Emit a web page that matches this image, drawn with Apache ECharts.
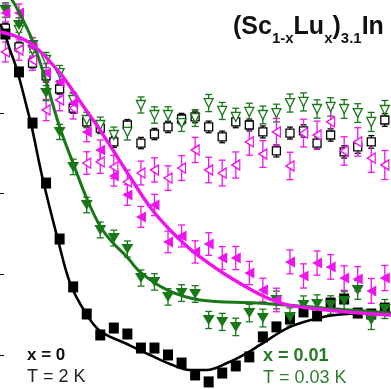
<!DOCTYPE html>
<html><head><meta charset="utf-8">
<script src="https://cdn.jsdelivr.net/npm/echarts@6/dist/echarts.min.js"></script>
<style>html,body{margin:0;padding:0;background:#fff;overflow:hidden}#c{width:391px;height:389px}</style>
</head><body><div id="c"></div>
<script>
// time bins (μs)
const time = [0.10,0.35,0.60,0.85,1.10,1.35,1.60,1.85,2.10,2.35,2.60,2.85,3.10,3.35,3.60,3.85,4.10,4.35,4.60,4.85,5.10,5.35,5.60,5.85,6.10,6.35,6.60,6.85,7.10];
// asymmetry values
const blackFilledA = [0.2490,0.2255,0.1938,0.1566,0.1219,0.0922,0.0754,0.0624,0.0667,0.0630,0.0543,0.0543,0.0500,0.0450,0.0376,0.0333,0.0388,0.0432,0.0488,0.0612,0.0674,0.0723,0.0767,0.0742,0.0822,0.0847,0.0760,0.0754,0.0791];
const blackOpenA = [0.2527,0.2410,0.2310,0.2230,0.2149,0.2031,0.1945,0.1907,0.1821,0.1926,0.1814,0.1870,0.1914,0.1963,0.1976,0.1914,0.1852,0.1945,0.1926,0.1883,0.1765,0.1876,0.1889,0.1814,0.1864,0.1759,0.1790,0.1821,0.1957];
const blackOpenErr = [0.0030,0.0030,0.0031,0.0032,0.0032,0.0033,0.0033,0.0034,0.0034,0.0034,0.0035,0.0035,0.0035,0.0035,0.0036,0.0036,0.0036,0.0036,0.0037,0.0037,0.0037,0.0037,0.0038,0.0038,0.0038,0.0038,0.0039,0.0039,0.0039];
const greenFilledA = [0.2639,0.2546,0.2422,0.2124,0.1883,0.1666,0.1430,0.1275,0.1225,0.1157,0.0977,0.0953,0.0860,0.0884,0.0878,0.0717,0.0705,0.0674,0.0760,0.0729,0.0841,0.0736,0.0810,0.0816,0.0810,0.0835,0.0903,0.0717,0.0785];
const greenFilledErr = [0.0045,0.0045,0.0046,0.0047,0.0047,0.0048,0.0048,0.0049,0.0049,0.0050,0.0050,0.0051,0.0051,0.0052,0.0052,0.0053,0.0053,0.0054,0.0054,0.0055,0.0055,0.0056,0.0056,0.0057,0.0057,0.0058,0.0058,0.0059,0.0059];
const greenOpenA = [null,0.2515,0.2391,0.2329,0.2248,0.2081,0.1957,0.1926,0.1864,0.1883,0.2050,0.1988,0.1988,0.1938,0.1969,0.2062,0.2013,0.1976,0.2007,0.1988,0.2000,0.2062,0.2069,0.2025,0.2038,0.2025,0.2000,0.1945,0.2019];
const greenOpenErr = [0.0045,0.0045,0.0046,0.0047,0.0047,0.0048,0.0048,0.0049,0.0049,0.0050,0.0050,0.0051,0.0051,0.0052,0.0052,0.0053,0.0053,0.0054,0.0054,0.0055,0.0055,0.0056,0.0056,0.0057,0.0057,0.0058,0.0058,0.0059,0.0059];
const magentaFilledA = [0.2620,0.2620,0.2410,0.2248,0.2193,0.2062,0.1883,0.1771,0.1610,0.1492,0.1356,0.1430,0.1201,0.1238,0.1139,0.1188,0.1101,0.1101,0.1008,0.0903,0.0841,0.1077,0.0990,0.1070,0.1046,0.0977,0.0971,0.0897,0.0977];
const magentaFilledErr = [0.0055,0.0056,0.0057,0.0058,0.0059,0.0060,0.0061,0.0062,0.0063,0.0064,0.0065,0.0066,0.0067,0.0068,0.0069,0.0070,0.0071,0.0072,0.0072,0.0073,0.0073,0.0074,0.0075,0.0075,0.0076,0.0076,0.0077,0.0077,0.0078];
const magentaOpenA = [0.2379,0.2391,0.2329,0.2019,0.2081,0.2031,0.1690,0.1697,0.1666,0.1573,0.1628,0.1647,0.1597,0.1659,0.1771,0.1647,0.1628,0.1678,0.1821,0.1746,0.1883,0.1672,0.1876,0.1864,0.1945,0.1765,0.1821,0.1721,0.1678];
const magentaOpenErr = [0.0062,0.0063,0.0064,0.0066,0.0067,0.0068,0.0070,0.0071,0.0072,0.0073,0.0074,0.0075,0.0076,0.0077,0.0078,0.0079,0.0080,0.0081,0.0082,0.0083,0.0084,0.0085,0.0086,0.0086,0.0087,0.0088,0.0088,0.0089,0.0090];
// fit curves
const blackFitT = [0,0.092,0.185,0.314,0.517,0.590,0.793,1.070,1.292,1.568,1.845,2.343,2.768,3.137,3.506,3.819,4.188,4.557,4.797,5.351,5.959,6.402,7.214];
const blackFitA = [0.2552,0.2484,0.2391,0.2267,0.2007,0.1907,0.1585,0.1213,0.0946,0.0767,0.0649,0.0568,0.0500,0.0444,0.0407,0.0407,0.0450,0.0512,0.0562,0.0674,0.0736,0.0754,0.0760];
const greenFitT = [0,0.221,0.406,0.609,0.830,1.107,1.347,1.605,1.845,2.085,2.343,2.583,3.081,3.690,4.742,5.959,7.214];
const greenFitA = [0.2794,0.2701,0.2589,0.2441,0.2217,0.1907,0.1690,0.1467,0.1300,0.1194,0.1108,0.1015,0.0903,0.0841,0.0822,0.0791,0.0760];
const magentaFitT = [0,0.277,0.609,1.107,1.421,1.624,1.845,2.399,2.768,3.137,3.506,3.690,4.114,4.742,5.111,5.406,6.033,6.642,7.214];
const magentaFitA = [0.2503,0.2478,0.2422,0.2248,0.2100,0.2001,0.1895,0.1604,0.1418,0.1275,0.1157,0.1108,0.1008,0.0884,0.0829,0.0804,0.0779,0.0760,0.0748];
const yTicks = [0.05,0.10,0.15,0.20,0.25];
const yMin = 0.0289, yMax = 0.2701;

const BLK = '#000000', GRN = '#187818', MAG = '#ee14ee';
const FONT = '"Liberation Sans", Arial, Helvetica, sans-serif';

function pts(vals){ const d=[]; time.forEach((t,i)=>{ if(vals[i]!=null) d.push([t, vals[i]]); }); return d; }
function curve(ts, vs){ return ts.map((t,i)=>[t, vs[i]]); }
function errSeries(vals, errs, color, cap){
  const data=[]; time.forEach((t,i)=>{ if(vals[i]!=null) data.push([t, vals[i], errs[i]]); });
  return { type:'custom', silent:true, data, encode:{x:0,y:1}, clip:false,
    renderItem:(params, api)=>{
      const x=api.value(0), y=api.value(1), e=api.value(2);
      const a=api.coord([x,y+e]), b=api.coord([x,y-e]);
      const st={stroke:color, lineWidth:1.3};
      return {type:'group', children:[
        {type:'line', shape:{x1:a[0],y1:a[1],x2:b[0],y2:b[1]}, style:st},
        {type:'line', shape:{x1:a[0]-cap,y1:a[1],x2:a[0]+cap,y2:a[1]}, style:st},
        {type:'line', shape:{x1:b[0]-cap,y1:b[1],x2:b[0]+cap,y2:b[1]}, style:st}
      ]};
    }};
}
function scatter(vals, symbol, size, rot, fill, stroke){
  return { type:'scatter', silent:true, clip:false, data:pts(vals), symbol, symbolSize:size, symbolRotate:rot,
    itemStyle:{color:fill, borderColor:stroke, borderWidth: fill==='#ffffff'?1.3:0, opacity:1} };
}
function line(ts, vs, color, w){
  return { type:'line', silent:true, clip:false, data:curve(ts,vs), showSymbol:false, symbol:'none', smooth:0.35,
    lineStyle:{color, width:w} };
}

const chart = echarts.init(document.getElementById('c'), null, {renderer:'canvas'});
chart.setOption({
  animation:false,
  backgroundColor:'#ffffff',
  grid:{left:0, right:0, top:0, bottom:0, containLabel:false},
  xAxis:{type:'value', min:0, max:7.214, show:true, axisLine:{show:false}, axisTick:{show:false}, axisLabel:{show:false}, splitLine:{show:false}},
  yAxis:{type:'value', min:yMin, max:yMax,
    axisLine:{show:false}, axisLabel:{show:false}, splitLine:{show:false},
    axisTick:{show:true, inside:true, length:4, customValues:yTicks, lineStyle:{color:'#000', width:1}}},
  series:[
    errSeries(blackOpenA, blackOpenErr, BLK, 3),
    scatter(blackOpenA, 'rect', [8,8], 0, '#ffffff', BLK),
    errSeries(greenOpenA, greenOpenErr, GRN, 3.5),
    scatter(greenOpenA, 'triangle', [9,9], 180, '#ffffff', GRN),
    errSeries(magentaOpenA, magentaOpenErr, MAG, 3.5),
    scatter(magentaOpenA, 'triangle', [10,8], 90, '#ffffff', MAG),
    scatter(blackFilledA, 'rect', [10,11], 0, BLK, BLK),
    line(blackFitT, blackFitA, BLK, 2.6),
    errSeries(greenFilledA, greenFilledErr, GRN, 3.5),
    scatter(greenFilledA, 'triangle', [12,10], 180, GRN, GRN),
    line(greenFitT, greenFitA, GRN, 3),
    errSeries(magentaFilledA, magentaFilledErr, MAG, 3.5),
    scatter(magentaFilledA, 'triangle', [11,10], 90, MAG, MAG),
    line(magentaFitT, magentaFitA, MAG, 3.4)
  ],
  graphic:[
    {type:'text', x:233, y:15, z:100, style:{
      text:'{m|(Sc}{s|1-x}{m|Lu}{s|x}{m|)}{s|3.1}{m|In}',
      rich:{
        m:{font:'bold 25px '+FONT, fill:'#111', verticalAlign:'top'},
        s:{font:'bold 15px '+FONT, fill:'#111', verticalAlign:'top', padding:[16,0,0,0]}
      }}},
    {type:'text', x:27, y:355, z:100, style:{text:'x = 0', font:'bold 17px '+FONT, fill:'#111', verticalAlign:'middle'}},
    {type:'text', x:27, y:377, z:100, style:{text:'T = 2 K', font:'18px '+FONT, fill:'#222', verticalAlign:'middle'}},
    {type:'text', x:263, y:356, z:100, style:{text:'x = 0.01', font:'bold 18px '+FONT, fill:'#267a26', verticalAlign:'middle'}},
    {type:'text', x:263, y:378, z:100, style:{text:'T = 0.03 K', font:'18px '+FONT, fill:'#2c7f2c', verticalAlign:'middle'}}
  ]
});
</script>
</body></html>
